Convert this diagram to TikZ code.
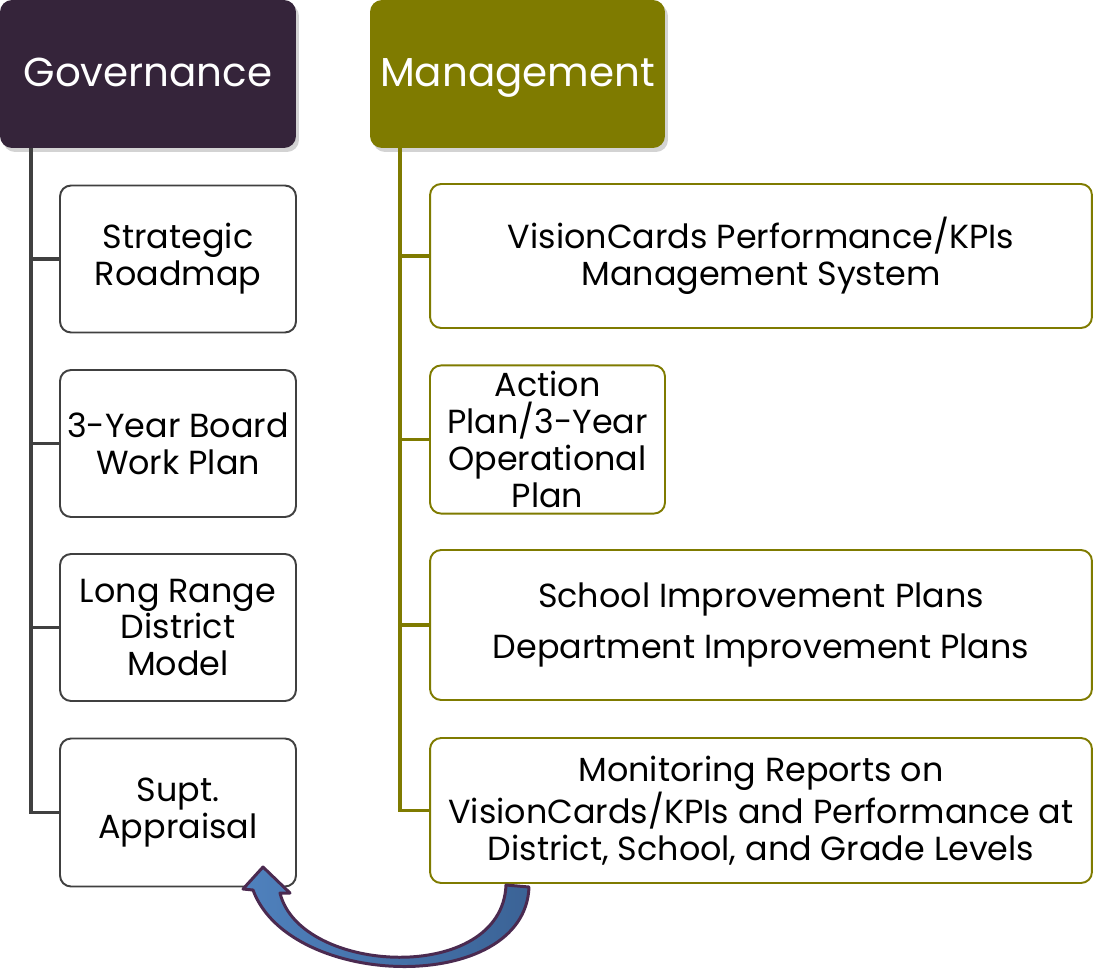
\documentclass[tikz,border=0pt]{standalone}
\usepackage{fontspec}
\setmainfont{Poppins}
\usetikzlibrary{shadows}
\definecolor{govpurple}{HTML}{35243A}
\definecolor{mgmtolive}{HTML}{7F7B00}
\definecolor{linegray}{HTML}{404040}
\definecolor{arrowblue}{HTML}{4F81BD}
\definecolor{arrowdark}{HTML}{3B6396}
\definecolor{arrowedge}{HTML}{4B2A50}
\tikzset{
  head/.style={rounded corners=0.24cm, minimum height=2.96cm, text=white,
    font=\fontsize{23}{28}\selectfont, text height=3.3ex, text depth=0.6ex,
    drop shadow={opacity=0.35,shadow xshift=0.06cm,shadow yshift=-0.08cm}},
  item/.style={draw, rounded corners=0.22cm, line width=1.1pt, fill=white,
    align=center, font=\fontsize{19}{21}\selectfont},
  trunk/.style={line width=2.2pt}
}
\begin{document}
\begin{tikzpicture}[x=0.02cm,y=-0.02cm]
\useasboundingbox (0,0) rectangle (1094,973);
\node[head, fill=govpurple, minimum width=5.92cm] (gov) at (148,74) {Governance};
\node[head, fill=mgmtolive, minimum width=5.9cm] (mgmt) at (517.5,74) {Management};
\coordinate (gtop) at (31,148);
\coordinate (mtop) at (400,148);
\node[item, draw=linegray, minimum width=4.72cm, minimum height=2.94cm] (g1) at (178,259) {Strategic\\Roadmap};
\node[item, draw=linegray, minimum width=4.72cm, minimum height=2.94cm] (g2) at (178,443.5) {3-Year Board\\Work Plan};
\node[item, draw=linegray, minimum width=4.72cm, minimum height=2.94cm] (g3) at (178,627.5) {Long Range\\District\\Model};
\node[item, draw=linegray, minimum width=4.72cm, minimum height=2.96cm] (g4) at (178,812.5) {Supt.\\Appraisal};
\node[item, draw=mgmtolive, minimum width=13.24cm, minimum height=2.88cm] (m1) at (761,256) {VisionCards Performance/KPIs\\Management System};
\node[item, draw=mgmtolive, minimum width=4.7cm, minimum height=2.94cm, inner xsep=0pt] (m2) at (547.5,439.5) {Action\\Plan/3-Year\\Operational\\Plan};
\node[item, draw=mgmtolive, minimum width=13.24cm, minimum height=3cm] (m3) at (761,625) {School Improvement Plans\\[0.3cm]Department Improvement Plans};
\node[item, draw=mgmtolive, minimum width=13.24cm, minimum height=2.9cm] (m4) at (761,810.5) {Monitoring Reports on\\VisionCards/KPIs and Performance at\\District, School, and Grade Levels};
\foreach \n in {g1,g2,g3,g4}
  \draw[trunk, linegray] (gtop) |- (\n.west);
\foreach \n in {m1,m2,m3,m4}
  \draw[trunk, mgmtolive] (mtop) |- (\n.west);
\draw[line width=1.7pt, arrowedge, left color=arrowblue, right color=arrowdark, line join=round]
  (506,885) .. controls (502,985) and (300,975) .. (280,893) -- (290,893) -- (263,867)
  -- (243,889) -- (253,890) .. controls (290,990) and (525,995) .. (529,887) -- cycle;
\end{tikzpicture}
\end{document}
